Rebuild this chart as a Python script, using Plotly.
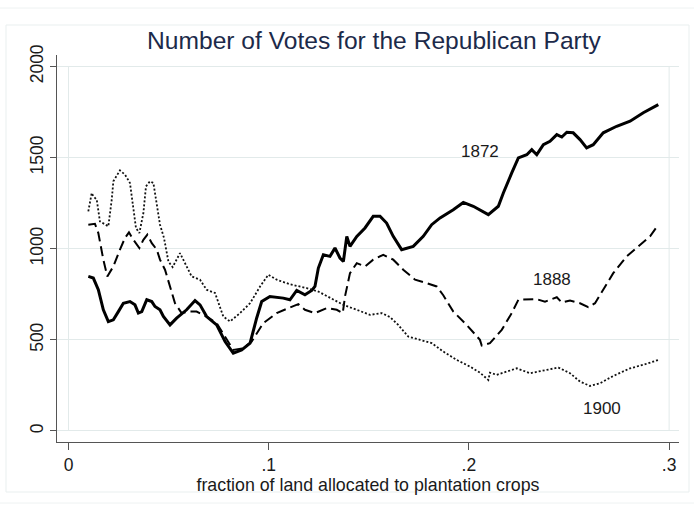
import plotly.graph_objects as go

# ---- data ----
x_1872 = [.0099, .0124, .0149, .0174, .0199, .0224, .0249, .0274, .0307, .0332, .0349, .0366,
          .0391, .0416, .0432, .0457, .0474, .0507, .0540, .0590, .0632, .0657, .0690, .0740,
          .0782, .0823, .0865, .0907, .0940, .0965, .1006, .1073, .1106, .1140, .1181, .1215,
          .1231, .1248, .1273, .1306, .1331, .1356, .1373, .1390, .1406, .1440, .1481, .1522,
          .1556, .1589, .1622, .1664, .1722, .1772, .1814, .1856, .1922, .1972, .2022, .2097,
          .2147, .2172, .2214, .2247, .2289, .2314, .2339, .2372, .2405, .2439, .2464, .2489,
          .2521, .2555, .2588, .2621, .2671, .2738, .2805, .2871, .2946]
y_1872 = [848, 839, 775, 665, 600, 610, 655, 701, 710, 692, 647, 655,
          720, 710, 683, 665, 628, 582, 619, 665, 716, 692, 628, 582,
          491, 427, 445, 482, 620, 710, 738, 729, 720, 771, 747, 771,
          793, 894, 967, 958, 1004, 949, 930, 1068, 1013, 1068, 1114, 1178,
          1178, 1141, 1068, 995, 1013, 1068, 1132, 1169, 1214, 1254, 1233, 1187,
          1233, 1306, 1416, 1498, 1516, 1544, 1516, 1571, 1590, 1626, 1613, 1639,
          1636, 1599, 1553, 1571, 1636, 1672, 1700, 1746, 1791]

x_1888 = [.0099, .0132, .0149, .0174, .0194, .0224, .0257, .0282, .0302, .0324, .0354, .0374,
          .0394, .0416, .0441, .0457, .0482, .0507, .0532, .0565, .0598, .0640, .0690, .0740,
          .0790, .0823, .0873, .0915, .0973, .1040, .1098, .1148, .1181, .1231, .1290, .1340,
          .1370, .1381, .1406, .1440, .1481, .1522, .1572, .1622, .1672, .1731, .1789, .1839,
          .1872, .1922, .1989, .2055, .2064, .2105, .2164, .2214, .2247, .2289, .2339, .2380,
          .2439, .2464, .2505, .2555, .2596, .2630, .2671, .2721, .2788, .2855, .2905, .2946]
y_1888 = [1132, 1137, 1086, 940, 848, 903, 995, 1059, 1090, 1049, 1004, 1049,
          1077, 1031, 995, 940, 885, 793, 701, 647, 655, 655, 628, 592,
          500, 445, 454, 491, 592, 647, 674, 696, 665, 647, 674, 665,
          647, 738, 866, 921, 903, 940, 967, 940, 885, 830, 811, 793,
          745, 655, 582, 500, 469, 482, 555, 647, 720, 720, 723, 710,
          734, 705, 716, 701, 679, 701, 775, 866, 958, 1022, 1068, 1132]

x_1900 = [.0099, .0116, .0124, .0141, .0157, .0182, .0199, .0216, .0224, .0257, .0282, .0307,
          .0324, .0337, .0354, .0374, .0387, .0407, .0424, .0441, .0457, .0477, .0499, .0520,
          .0557, .0590, .0615, .0657, .0690, .0732, .0773, .0807, .0857, .0907, .0957, .0998,
          .1040, .1106, .1190, .1248, .1306, .1373, .1440, .1506, .1564, .1606, .1647, .1697,
          .1756, .1814, .1872, .1939, .2006, .2055, .2097, .2105, .2139, .2189, .2239, .2305,
          .2372, .2447, .2505, .2555, .2605, .2655, .2721, .2805, .2871, .2946]
y_1900 = [1205, 1306, 1288, 1269, 1150, 1132, 1123, 1269, 1370, 1430, 1407, 1361,
          1224, 1114, 1086, 1196, 1342, 1370, 1361, 1251, 1132, 1059, 930, 899,
          976, 903, 848, 830, 775, 757, 628, 601, 647, 701, 793, 857,
          830, 805, 784, 765, 729, 692, 665, 637, 647, 625, 582, 518,
          500, 482, 436, 390, 353, 320, 280, 320, 308, 326, 344, 317,
          331, 348, 317, 271, 247, 262, 302, 344, 363, 390]

series_names = ["1872", "1888", "1900"]
label_x = [0.2055, 0.2414, 0.2663]
label_y = [1531, 830, 125]

x_ticks = [0, 0.1, 0.2, 0.3]
x_tick_text = ["0", ".1", ".2", ".3"]
y_ticks = [0, 500, 1000, 1500, 2000]
y_tick_text = ["0", "500", "1000", "1500", "2000"]

title_text = "Number of Votes for the Republican Party"
x_title = "fraction of land allocated to plantation crops"

FONT = "Liberation Sans, Arial, sans-serif"
GRID = "#e2eaea"

fig = go.Figure()
fig.add_trace(go.Scatter(x=x_1872, y=y_1872, mode="lines", name="1872",
                         line=dict(color="#000000", width=3)))
fig.add_trace(go.Scatter(x=x_1888, y=y_1888, mode="lines", name="1888",
                         line=dict(color="#000000", width=2, dash="10px,5px")))
fig.add_trace(go.Scatter(x=x_1900, y=y_1900, mode="lines", name="1900",
                         line=dict(color="#111111", width=1.8, dash="2px,2px")))

for name, lx, ly in zip(series_names, label_x, label_y):
    fig.add_annotation(x=lx, y=ly, text=name, showarrow=False,
                       font=dict(family=FONT, size=17, color="#1a1a1a"))

# vertical plot-region outlines at x = 0 and x = .3
for xv in (x_ticks[0], x_ticks[-1]):
    fig.add_shape(type="line", xref="x", yref="y", x0=xv, x1=xv,
                  y0=y_ticks[0], y1=y_ticks[-1], line=dict(color=GRID, width=1),
                  layer="below")

# faint graph-region frames
fig.add_shape(type="rect", xref="paper", yref="paper", x0=-51/622, x1=1.0 + 10/622,
              y0=-(492-442)/387, y1=1 + (55-25)/387,
              line=dict(color="#e9efef", width=1), layer="below")
fig.add_shape(type="rect", xref="paper", yref="paper", x0=-51/622 - 18/622, x1=1.0 + 20/622,
              y0=-(503-442)/387, y1=1 + (55-8)/387,
              line=dict(color="#eef2f2", width=1), layer="below")

fig.update_layout(
    width=694, height=508,
    margin=dict(l=57, r=15, t=55, b=66),
    paper_bgcolor="white", plot_bgcolor="rgba(0,0,0,0)",
    showlegend=False,
    title=dict(text=title_text, x=374/694, xanchor="center", y=1 - 40/508, yanchor="middle",
               font=dict(family=FONT, size=24.6, color="#1c2a4a")),
    font=dict(family=FONT, size=17, color="#1a1a1a"),
)
fig.update_xaxes(range=[-0.005744, 0.30494], tickvals=x_ticks, ticktext=x_tick_text,
                 showgrid=False, zeroline=False, showline=True, linecolor="#555555",
                 linewidth=1, ticks="outside", ticklen=7, tickcolor="#555555",
                 tickfont=dict(family=FONT, size=17.5, color="#1a1a1a"),
                 title=dict(text=x_title, font=dict(family=FONT, size=17.8, color="#1a1a1a"),
                            standoff=0))
fig.update_yaxes(range=[-60.4, 2063], tickvals=y_ticks, ticktext=y_tick_text,
                 showgrid=True, gridcolor=GRID, gridwidth=1, zeroline=False,
                 showline=True, linecolor="#555555", linewidth=1,
                 ticks="outside", ticklen=6, tickcolor="#555555", tickangle=-90,
                 tickfont=dict(family=FONT, size=17.5, color="#1a1a1a"))

fig.write_html("out.html")
